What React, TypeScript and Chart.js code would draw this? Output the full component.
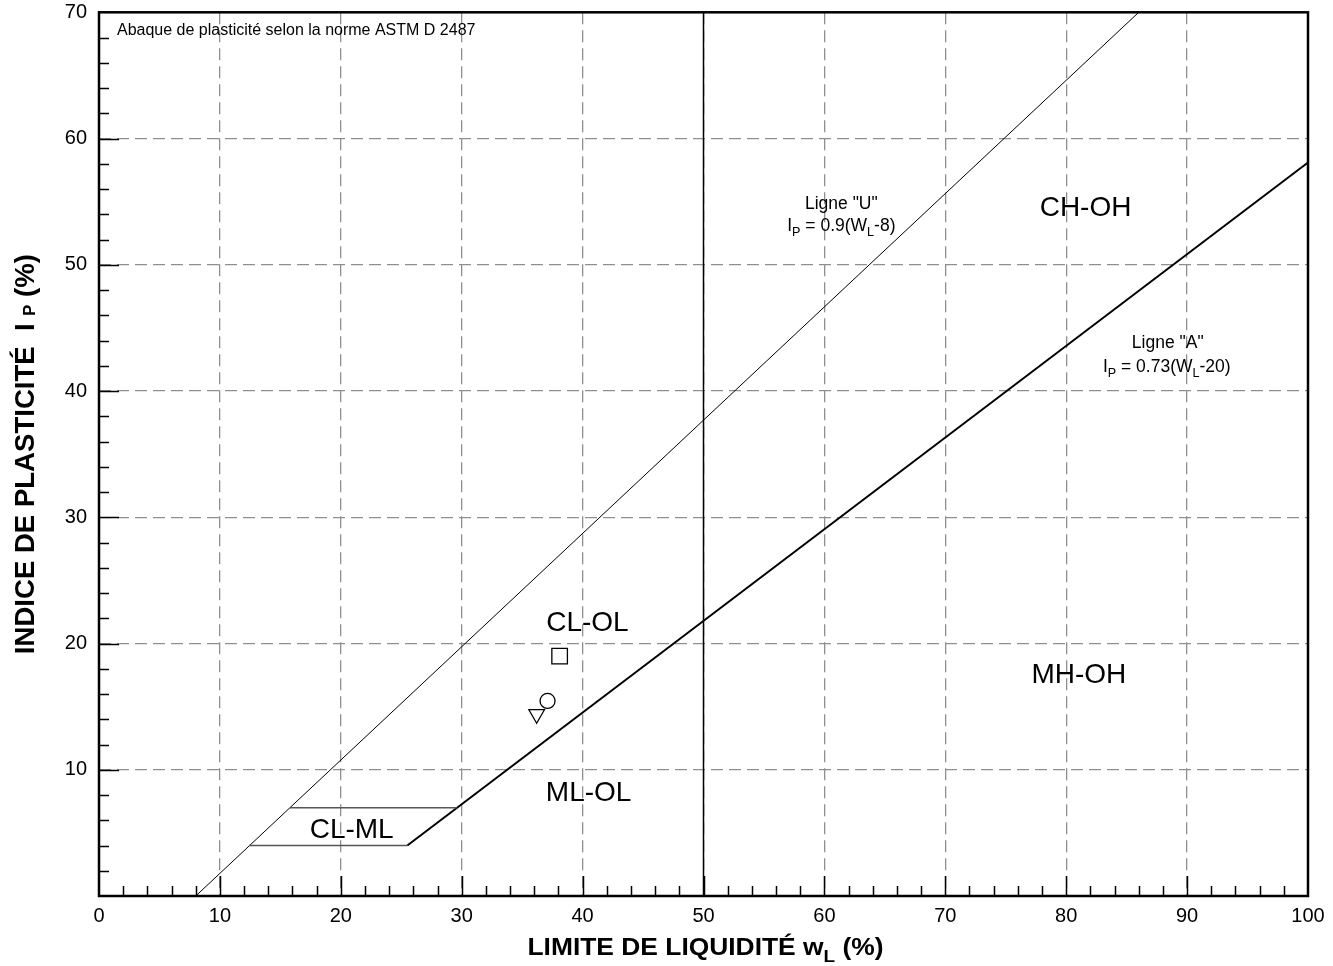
import React, { useEffect, useRef } from "react";
import { Chart, registerables } from "chart.js";

Chart.register(...registerables);

// ---------- data ----------
const xTickValues = [0, 10, 20, 30, 40, 50, 60, 70, 80, 90, 100];
const yTickValues = [10, 20, 30, 40, 50, 60, 70];

const uLineWL = [8, 86.0];
const uLineIP = [0, 70];
const aLineWL = [25.5, 100];
const aLineIP = [4, 58.1];
const wl50WL = [50, 50];
const wl50IP = [0, 70];
const clmlLowerWL = [12.4, 25.5];
const clmlLowerIP = [4, 4];
const clmlUpperWL = [15.8, 29.6];
const clmlUpperIP = [7, 7];

const sampleWL = [38.1, 37.1, 36.2];
const sampleIP = [19.0, 15.45, 14.4];
const sampleShapes = ["rect", "circle", "triangle"];

const zoneNames = ["CL-OL", "ML-OL", "CH-OH", "MH-OH", "CL-ML"];
const zoneWL = [40.4, 40.5, 81.6, 81.05, 20.9];
const zoneIP = [21.0, 7.5, 53.9, 16.9, 4.6];

const chartNote = "Abaque de plasticité selon la norme ASTM D 2487";

// ---------- helpers ----------
const FAM = '"Liberation Sans", Arial, Helvetica, sans-serif';

type Part = { t: string; sub?: boolean };

function measureRich(ctx: CanvasRenderingContext2D, parts: Part[], size: number, weight: string, subScale: number) {
  return parts.map((p) => {
    ctx.font = `${weight} ${p.sub ? size * subScale : size}px ${FAM}`;
    return ctx.measureText(p.t).width;
  });
}

function drawRich(
  ctx: CanvasRenderingContext2D,
  parts: Part[],
  x: number,
  y: number,
  size: number,
  weight: string,
  subScale: number,
  subShift: number,
  targetWidth?: number
) {
  const widths = measureRich(ctx, parts, size, weight, subScale);
  const total = widths.reduce((a, b) => a + b, 0);
  const sx = targetWidth ? targetWidth / total : 1;
  ctx.save();
  ctx.translate(x, y);
  ctx.scale(sx, 1);
  ctx.textAlign = "left";
  ctx.textBaseline = "alphabetic";
  ctx.fillStyle = "#000";
  let cx = -total / 2;
  parts.forEach((p, i) => {
    ctx.font = `${weight} ${p.sub ? size * subScale : size}px ${FAM}`;
    ctx.fillText(p.t, cx, p.sub ? subShift : 0);
    cx += widths[i];
  });
  ctx.restore();
}

const decorPlugin = {
  id: "decor",
  afterDraw(chart: any) {
    const { ctx, chartArea: a, scales } = chart;
    const xs = scales.x;
    const ys = scales.y;
    ctx.save();

    // inward tick marks
    ctx.strokeStyle = "#000";
    ctx.lineWidth = 1.5;
    ctx.beginPath();
    for (let v = 2; v < 100; v += 2) {
      const px = Math.round(xs.getPixelForValue(v)) + 0.5;
      const len = v % 10 === 0 ? 20 : 10;
      ctx.moveTo(px, a.bottom);
      ctx.lineTo(px, a.bottom - len);
    }
    for (let v = 2; v < 70; v += 2) {
      const py = Math.round(ys.getPixelForValue(v)) + 0.5;
      const len = v % 10 === 0 ? 20 : 10;
      ctx.moveTo(a.left, py);
      ctx.lineTo(a.left + len, py);
    }
    ctx.stroke();

    // frame
    ctx.lineWidth = 2.5;
    ctx.strokeRect(a.left, a.top, a.right - a.left, a.bottom - a.top);

    // note
    ctx.fillStyle = "#000";
    ctx.font = `16px ${FAM}`;
    ctx.textAlign = "left";
    ctx.textBaseline = "alphabetic";
    ctx.fillText(chartNote, a.left + 18, a.top + 23);

    // zone labels
    ctx.font = `28px ${FAM}`;
    ctx.textAlign = "center";
    zoneNames.forEach((n, i) => {
      ctx.fillText(n, xs.getPixelForValue(zoneWL[i]), ys.getPixelForValue(zoneIP[i]));
    });

    // line labels
    const lx = xs.getPixelForValue(61.4);
    ctx.font = `17.5px ${FAM}`;
    ctx.fillText('Ligne "U"', lx, ys.getPixelForValue(54.4));
    drawRich(
      ctx,
      [{ t: "I" }, { t: "P", sub: true }, { t: " = 0.9(W" }, { t: "L", sub: true }, { t: "-8)" }],
      lx,
      ys.getPixelForValue(52.7),
      17.5,
      "",
      0.72,
      5
    );
    const ax = xs.getPixelForValue(88.4);
    ctx.font = `17.5px ${FAM}`;
    ctx.textAlign = "center";
    ctx.fillText('Ligne "A"', ax, ys.getPixelForValue(43.4));
    drawRich(
      ctx,
      [{ t: "I" }, { t: "P", sub: true }, { t: " = 0.73(W" }, { t: "L", sub: true }, { t: "-20)" }],
      ax - 1,
      ys.getPixelForValue(41.5),
      17.5,
      "",
      0.72,
      5
    );

    // axis titles
    drawRich(
      ctx,
      [{ t: "LIMITE DE LIQUIDITÉ w" }, { t: "L", sub: true }, { t: " (%)" }],
      (a.left + a.right) / 2 + 2,
      955,
      24,
      "bold",
      0.72,
      7,
      356
    );
    ctx.save();
    ctx.translate(34, (a.top + a.bottom) / 2);
    ctx.rotate(-Math.PI / 2);
    drawRich(
      ctx,
      [{ t: "INDICE DE PLASTICITÉ  I " }, { t: "P", sub: true }, { t: " (%)" }],
      0,
      0,
      27,
      "bold",
      0.6,
      1,
      400
    );
    ctx.restore();

    ctx.restore();
  },
};

function line(wl: number[], ip: number[], color: string, width: number) {
  return {
    data: wl.map((x, i) => ({ x, y: ip[i] })),
    showLine: true,
    fill: false,
    borderColor: color,
    borderWidth: width,
    pointRadius: 0,
    pointHoverRadius: 0,
    tension: 0,
    clip: false as any,
  };
}

export default function App() {
  const ref = useRef<HTMLCanvasElement | null>(null);

  useEffect(() => {
    document.body.style.margin = "0";
    const canvas = ref.current;
    if (!canvas) return;

    const chart = new Chart(canvas, {
      type: "scatter",
      data: {
        datasets: [
          line(clmlLowerWL, clmlLowerIP, "#555", 1.5),
          line(clmlUpperWL, clmlUpperIP, "#555", 1.5),
          line(uLineWL, uLineIP, "#000", 1),
          line(aLineWL, aLineIP, "#000", 2),
          line(wl50WL, wl50IP, "#000", 1.5),
          {
            data: sampleWL.map((x, i) => ({ x, y: sampleIP[i] })),
            showLine: false,
            pointStyle: sampleShapes as any,
            pointRadius: [11, 7.5, 9],
            pointRotation: [0, 0, 180],
            pointBorderColor: "#000",
            pointBackgroundColor: "rgba(0,0,0,0)",
            pointBorderWidth: 1.3,
          } as any,
        ],
      },
      options: {
        responsive: false,
        animation: false,
        events: [],
        layout: { padding: { left: 0, right: 25, top: 12, bottom: 0 } },
        plugins: {
          legend: { display: false },
          tooltip: { enabled: false },
          title: { display: false },
        },
        scales: {
          x: {
            type: "linear",
            min: 0,
            max: 100,
            afterBuildTicks: (s: any) => {
              s.ticks = xTickValues.map((v) => ({ value: v }));
            },
            afterFit: (s: any) => {
              s.height = 70;
              s.paddingLeft = 0;
              s.paddingRight = 0;
              s.paddingTop = 0;
              s.paddingBottom = 0;
            },
            grid: {
              color: (c: any) =>
                c.tick && (c.tick.value === 0 || c.tick.value === 100) ? "rgba(0,0,0,0)" : "#8f8f8f",
              lineWidth: 1.3,
              drawTicks: false,
            },
            border: { display: false, dash: [12, 6] },
            ticks: {
              font: { family: FAM, size: 20 },
              color: "#000",
              padding: 8,
              maxRotation: 0,
              autoSkip: false,
            },
          },
          y: {
            type: "linear",
            min: 0,
            max: 70,
            afterBuildTicks: (s: any) => {
              s.ticks = yTickValues.map((v) => ({ value: v }));
            },
            afterFit: (s: any) => {
              s.width = 99;
              s.paddingLeft = 0;
              s.paddingRight = 0;
              s.paddingTop = 0;
              s.paddingBottom = 0;
            },
            grid: {
              color: (c: any) =>
                c.tick && (c.tick.value === 0 || c.tick.value === 70) ? "rgba(0,0,0,0)" : "#8f8f8f",
              lineWidth: 1.3,
              drawTicks: false,
            },
            border: { display: false, dash: [12, 6] },
            ticks: {
              font: { family: FAM, size: 20 },
              color: "#000",
              padding: 12,
              autoSkip: false,
            },
          },
        },
      },
      plugins: [decorPlugin],
    });

    return () => chart.destroy();
  }, []);

  return <canvas ref={ref} width={1333} height={966} style={{ display: "block" }} />;
}
